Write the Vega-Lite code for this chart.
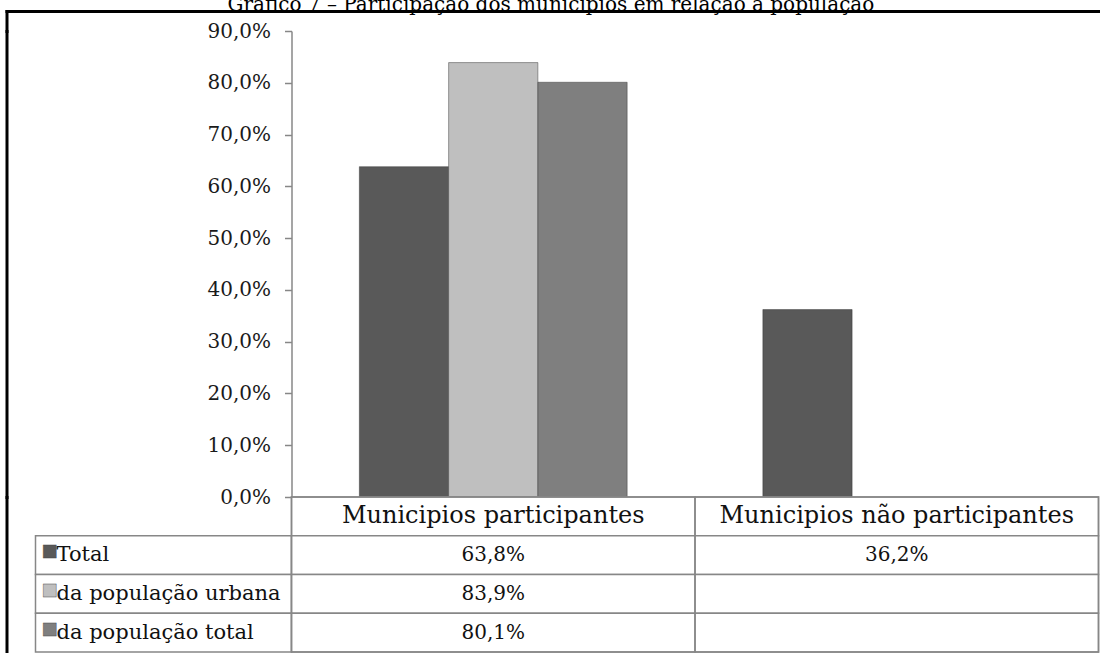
{
  "$schema": "https://vega.github.io/schema/vega-lite/v6.json",
  "padding": {"left": 6.5, "top": -5, "right": 0, "bottom": 0},
  "title": {
    "text": "Gráfico 7 – Participação dos municípios em relação à população",
    "font": "DejaVu Serif",
    "fontSize": 20,
    "fontWeight": "normal",
    "color": "#000",
    "baseline": "alphabetic",
    "offset": -20,
    "anchor": "middle",
    "dx": -2
  },
  "datasets": {
    "bars": [
      {"cat": "Municipios participantes", "serie": "Total", "value": 0.638},
      {"cat": "Municipios participantes", "serie": "da população urbana", "value": 0.839},
      {"cat": "Municipios participantes", "serie": "da população total", "value": 0.801},
      {"cat": "Municipios não participantes", "serie": "Total", "value": 0.362}
    ],
    "cats": [
      {"cat": "Municipios participantes"},
      {"cat": "Municipios não participantes"}
    ],
    "tableRows": [
      {"row": "header"},
      {"row": "Total"},
      {"row": "da população urbana"},
      {"row": "da população total"}
    ],
    "legendRows": [
      {"serie": "Total"},
      {"serie": "da população urbana"},
      {"serie": "da população total"}
    ],
    "frame": [{"f": 0}],
    "empty": [{}]
  },
  "config": {
    "view": {"stroke": null},
    "locale": {"number": {"decimal": ",", "thousands": ".", "grouping": [3], "currency": ["R$", ""]}},
    "text": {"font": "DejaVu Serif", "color": "#111"}
  },
  "columns": 3,
  "spacing": 0,
  "bounds": "flush",
  "align": "each",
  "concat": [
    {
      "width": 29, "height": 20,
      "data": {"name": "frame"},
      "mark": {"type": "point", "opacity": 0},
      "encoding": {
        "x": {"field": "f", "type": "quantitative", "axis": {"orient": "top", "domainColor": "#000", "domainWidth": 3, "domainCap": "square", "ticks": false, "labels": false, "grid": false, "title": null}},
        "y": {"field": "f", "type": "quantitative", "axis": {"orient": "left", "domainColor": "#000", "domainWidth": 3, "domainCap": "square", "ticks": false, "labels": false, "grid": false, "title": null}}
      }
    },
    {
      "width": 256, "height": 20,
      "data": {"name": "frame"},
      "mark": {"type": "point", "opacity": 0},
      "encoding": {
        "x": {"field": "f", "type": "quantitative", "axis": {"orient": "top", "domainColor": "#000", "domainWidth": 3, "domainCap": "square", "ticks": false, "labels": false, "grid": false, "title": null}}
      }
    },
    {
      "width": 807, "height": 20,
      "data": {"name": "frame"},
      "mark": {"type": "point", "opacity": 0},
      "encoding": {
        "x": {"field": "f", "type": "quantitative", "axis": {"orient": "top", "domainColor": "#000", "domainWidth": 3, "domainCap": "square", "ticks": false, "labels": false, "grid": false, "title": null}}
      }
    },
    {
      "width": 29, "height": 466,
      "data": {"name": "frame"},
      "mark": {"type": "point", "opacity": 0},
      "encoding": {
        "y": {"field": "f", "type": "quantitative", "axis": {"orient": "left", "domainColor": "#000", "domainWidth": 3, "domainCap": "square", "ticks": false, "labels": false, "grid": false, "title": null}}
      }
    },
    {
      "width": 256, "height": 466,
      "data": {"name": "empty"},
      "mark": "text",
      "encoding": {"text": {"value": ""}}
    },
    {
      "width": 807, "height": 466,
      "data": {"name": "bars"},
      "mark": {"type": "bar", "stroke": "#333", "strokeOpacity": 0.45, "strokeWidth": 1},
      "encoding": {
        "x": {"field": "cat", "type": "nominal", "scale": {"domain": ["Municipios participantes", "Municipios não participantes"], "paddingInner": 0, "paddingOuter": 0}, "axis": null},
        "xOffset": {"field": "serie", "type": "nominal", "scale": {"domain": ["Total", "da população urbana", "da população total"], "paddingInner": 0, "paddingOuter": 0.76}},
        "y": {
          "field": "value", "type": "quantitative",
          "scale": {"domain": [0, 0.9], "nice": false, "zero": true},
          "axis": {
            "values": [0, 0.1, 0.2, 0.3, 0.4, 0.5, 0.6, 0.7, 0.8, 0.9],
            "format": ".1%",
            "grid": false,
            "title": null,
            "labelFont": "DejaVu Serif",
            "labelFontSize": 20,
            "labelColor": "#1a1a1a",
            "labelPadding": 14,
            "tickSize": 7,
            "tickColor": "#878787",
            "tickWidth": 1.5,
            "domainColor": "#878787",
            "domainWidth": 1.5
          }
        },
        "color": {"field": "serie", "type": "nominal", "scale": {"domain": ["Total", "da população urbana", "da população total"], "range": ["#595959", "#bfbfbf", "#7f7f7f"]}, "legend": null}
      }
    },
    {
      "width": 29, "height": 155,
      "data": {"name": "frame"},
      "mark": {"type": "point", "opacity": 0},
      "encoding": {
        "y": {"field": "f", "type": "quantitative", "axis": {"orient": "left", "domainColor": "#000", "domainWidth": 3, "domainCap": "square", "ticks": false, "labels": false, "grid": false, "title": null}}
      }
    },
    {
      "width": 256, "height": 155,
      "layer": [
        {
          "data": {"name": "tableRows"},
          "transform": [{"filter": "datum.row !== 'header'"}],
          "mark": {"type": "rect", "fill": "#fff", "stroke": "#878787", "strokeWidth": 1.5},
          "encoding": {
            "y": {"field": "row", "type": "nominal", "scale": {"domain": ["header", "Total", "da população urbana", "da população total"], "paddingInner": 0, "paddingOuter": 0}, "axis": null}
          }
        },
        {
          "data": {"name": "legendRows"},
          "mark": {"type": "text", "text": "■", "font": "DejaVu Sans", "fontSize": 17, "align": "left", "baseline": "middle", "dx": -122, "dy": -4, "stroke": "#444", "strokeWidth": 0.4},
          "encoding": {
            "y": {"field": "serie", "type": "nominal"},
            "color": {"field": "serie", "type": "nominal", "scale": {"domain": ["Total", "da população urbana", "da população total"], "range": ["#595959", "#bfbfbf", "#7f7f7f"]}, "legend": null}
          }
        },
        {
          "data": {"name": "legendRows"},
          "mark": {"type": "text", "font": "DejaVu Serif", "fontSize": 21, "align": "left", "baseline": "middle", "dx": -107, "color": "#111"},
          "encoding": {
            "y": {"field": "serie", "type": "nominal"},
            "text": {"field": "serie"}
          }
        }
      ]
    },
    {
      "width": 807, "height": 155,
      "layer": [
        {
          "data": {"name": "tableRows"},
          "mark": {"type": "rect", "fill": "#fff", "stroke": "#878787", "strokeWidth": 1.5},
          "encoding": {
            "y": {"field": "row", "type": "nominal", "scale": {"domain": ["header", "Total", "da população urbana", "da população total"], "paddingInner": 0, "paddingOuter": 0}, "axis": null}
          }
        },
        {
          "data": {"name": "cats"},
          "mark": {"type": "rect", "fill": "transparent", "stroke": "#878787", "strokeWidth": 1.5},
          "encoding": {
            "x": {"field": "cat", "type": "nominal", "scale": {"domain": ["Municipios participantes", "Municipios não participantes"], "paddingInner": 0, "paddingOuter": 0}, "axis": null}
          }
        },
        {
          "data": {"name": "cats"},
          "mark": {"type": "text", "font": "DejaVu Serif", "fontSize": 24, "baseline": "middle", "color": "#111"},
          "encoding": {
            "x": {"field": "cat", "type": "nominal"},
            "y": {"datum": "header", "type": "nominal"},
            "text": {"field": "cat"}
          }
        },
        {
          "data": {"name": "bars"},
          "mark": {"type": "text", "font": "DejaVu Serif", "fontSize": 20, "baseline": "middle", "color": "#111"},
          "encoding": {
            "x": {"field": "cat", "type": "nominal"},
            "y": {"field": "serie", "type": "nominal"},
            "text": {"field": "value", "type": "quantitative", "format": ".1%"}
          }
        }
      ]
    }
  ]
}
